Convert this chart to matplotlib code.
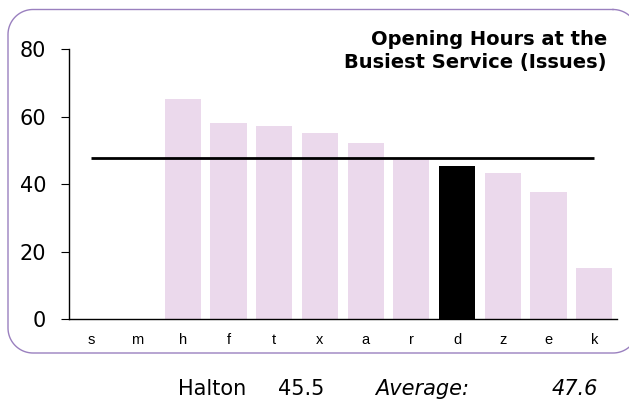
"""Opening hours at the busiest service - bar chart with average line."""

import matplotlib

matplotlib.use("Agg")

import matplotlib.pyplot as plt
import numpy as np
from matplotlib.lines import Line2D

categories = ["s", "m", "h", "f", "t", "x", "a", "r", "d", "z", "e", "k"]
hours = [0, 0, 65.1, 58.1, 57.1, 55.1, 52.2, 47.5, 45.5, 43.2, 37.6, 15.1]
highlight = "d"
highlight_name = "Halton"
highlight_value = 45.5
average_value = 47.6
y_ticks = [0, 20, 40, 60, 80]

BAR_COLOUR = "#ebd9ec"
HIGHLIGHT_COLOUR = "#000000"
BORDER_COLOUR = "#9a80bf"

WIDTH_PX, HEIGHT_PX = 629, 401


def rounded_outline(left, top, right, bottom, radius, steps=24):
    """Closed outline of a rounded rectangle in pixel coords (y down)."""
    corners = [
        (right - radius, top + radius, -90, 0),
        (right - radius, bottom - radius, 0, 90),
        (left + radius, bottom - radius, 90, 180),
        (left + radius, top + radius, 180, 270),
    ]
    xs, ys = [], []
    for cx, cy, start, stop in corners:
        angles = np.radians(np.linspace(start, stop, steps))
        xs.extend(cx + radius * np.cos(angles))
        ys.extend(cy + radius * np.sin(angles))
    xs.append(xs[0])
    ys.append(ys[0])
    return np.array(xs), np.array(ys)


figure = plt.figure(figsize=(WIDTH_PX / 100, HEIGHT_PX / 100), dpi=100)

# rounded frame around the chart; right edge sits just past the canvas
frame_x, frame_y = rounded_outline(8, 9.5, 638, 353, 25)
figure.add_artist(Line2D(frame_x / WIDTH_PX, 1 - frame_y / HEIGHT_PX,
                         transform=figure.transFigure, color=BORDER_COLOUR,
                         linewidth=1.0, zorder=-1))

axis = figure.add_axes([0.109, 0.2037, 0.872, 0.6741])
axis.set_facecolor("none")

colours = [HIGHLIGHT_COLOUR if c == highlight else BAR_COLOUR for c in categories]
positions = list(range(len(categories)))
axis.bar(positions, hours, width=0.79, color=colours, zorder=2)
axis.hlines(average_value, positions[0], positions[-1], color="black",
            linewidth=2.0, zorder=3)

axis.set_xlim(-0.5, len(categories) - 0.5)
axis.set_ylim(0, 80)
axis.set_yticks(y_ticks)
axis.set_yticklabels([str(v) for v in y_ticks], fontsize=15, family="DejaVu Sans")
axis.set_xticks(positions)
axis.set_xticklabels(categories, fontsize=10.5, family="Liberation Sans")
axis.tick_params(axis="x", length=0, pad=10)
axis.tick_params(axis="y", length=6, width=0.8, pad=10)
for side in ("top", "right"):
    axis.spines[side].set_visible(False)
for side in ("left", "bottom"):
    axis.spines[side].set_linewidth(1.0)

figure.text(607 / WIDTH_PX, 1 - 30 / HEIGHT_PX,
            "Opening Hours at the\nBusiest Service (Issues)",
            ha="right", va="top", fontsize=14, fontweight="bold",
            family="DejaVu Sans", linespacing=1.25)

text_y = 1 - 389 / HEIGHT_PX
figure.text(178 / WIDTH_PX, text_y, highlight_name, ha="left", va="center",
            fontsize=15, family="DejaVu Sans")
figure.text(278 / WIDTH_PX, text_y, f"{highlight_value:.1f}", ha="left",
            va="center", fontsize=15, family="DejaVu Sans")
figure.text(375 / WIDTH_PX, text_y, "Average:", ha="left", va="center",
            fontsize=15, style="italic", family="DejaVu Sans")
figure.text(598 / WIDTH_PX, text_y, f"{average_value:.1f}", ha="right",
            va="center", fontsize=15, style="italic", family="DejaVu Sans")

figure.savefig("out.png", dpi=100)
plt.close(figure)
